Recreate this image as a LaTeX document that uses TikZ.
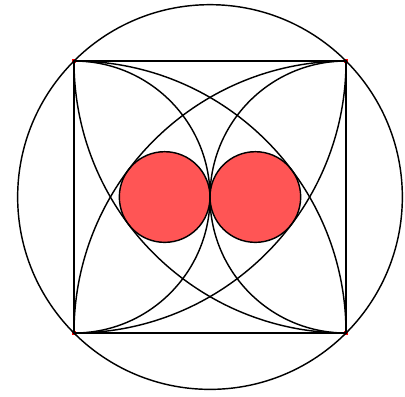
\documentclass[tikz,border=0pt]{standalone}
\usepackage{xcolor}
\usepackage{tikz}
\definecolor{discred}{HTML}{FF5555}

\begin{document}
\begin{tikzpicture}[
  line/.style={draw=black, line width=0.9pt},
  disc/.style={draw=black, line width=0.9pt, fill=discred},
  dot/.style={rectangle, fill=red, inner sep=0pt, minimum size=2.4pt},
]
\def\a{6}
\useasboundingbox (-1.632, -1.390) rectangle (7.301, 7.346);

% Square corners and centre
\coordinate (D) at (0, 0);
\coordinate (C) at (\a, 0);
\coordinate (B) at (\a, \a);
\coordinate (A) at (0, \a);
\coordinate (O) at (\a/2, \a/2);

% Points
\foreach \p in {A, B, C, D, O}
  \node[dot] at (\p) {};

% Two tangent discs
\draw[disc] (\a/3, \a/2) circle[radius=\a/6];
\draw[disc] (2*\a/3, \a/2) circle[radius=\a/6];

% Circumcircle and square
\draw[line] (O) circle[radius=0.70711*\a];
\draw[line] (A) -- (B) -- (C) -- (D) -- cycle;

% Quarter arcs of radius a
\draw[line] (A) arc[start angle=90, end angle=0, radius=\a];
\draw[line] (A) arc[start angle=180, end angle=270, radius=\a];
\draw[line] (D) arc[start angle=270, end angle=360, radius=\a];
\draw[line] (D) arc[start angle=180, end angle=90, radius=\a];

% Semicircles on the left and right sides
\draw[line] (A) arc[start angle=90, end angle=-90, radius=\a/2];
\draw[line] (B) arc[start angle=90, end angle=270, radius=\a/2];

\end{tikzpicture}
\end{document}
